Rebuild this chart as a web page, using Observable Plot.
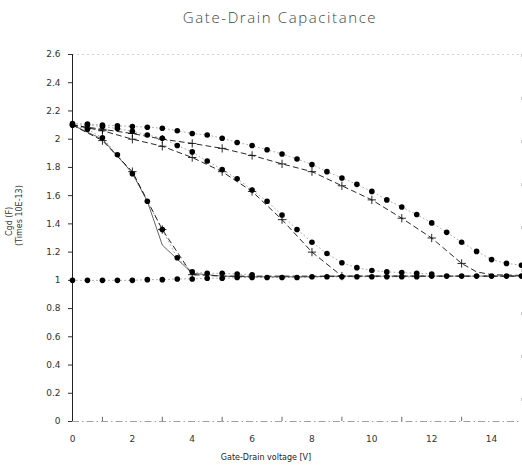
<!DOCTYPE html>
<html><head><meta charset="utf-8">
<script src="https://cdn.jsdelivr.net/npm/d3@7"></script>
<script src="https://cdn.jsdelivr.net/npm/@observablehq/plot@0.6"></script>
<style>
body{margin:0;background:#fff;width:522px;height:468px;overflow:hidden;font-family:"DejaVu Sans",sans-serif}
#title{height:34px;line-height:34px;width:484px;padding-left:38px;text-align:center;font-size:15px;letter-spacing:1.6px;color:#444;font-family:"Open Sans","DejaVu Sans",sans-serif;font-weight:300}
#xlabel{height:20px;line-height:20px;width:512px;padding-left:10px;text-align:center;font-size:8px;color:#222}
#chart svg{display:block}
</style></head><body>
<div id="title">Gate-Drain Capacitance</div>
<div id="chart"></div>
<div id="xlabel">Gate-Drain voltage [V]</div>
<script>
// measured points (dots), every 0.5 V
const dotX = [0,0.5,1,1.5,2,2.5,3,3.5,4,4.5,5,5.5,6,6.5,7,7.5,8,8.5,9,9.5,10,10.5,11,11.5,12,12.5,13,13.5,14,14.5,15];
const measC = [2.11,2.108,2.10,2.095,2.09,2.085,2.078,2.06,2.04,2.03,2.007,1.977,1.955,1.925,1.895,1.86,1.82,1.77,1.725,1.68,1.63,1.57,1.52,1.466,1.407,1.34,1.27,1.205,1.147,1.12,1.107];
const measB = [2.1,2.1,2.09,2.075,2.056,2.03,2.007,1.955,1.91,1.845,1.785,1.72,1.64,1.56,1.463,1.36,1.27,1.19,1.125,1.09,1.07,1.06,1.055,1.05,1.045];
const measA = [2.1,2.07,2.01,1.89,1.755,1.56,1.36,1.16,1.06,1.05,1.05,1.045,1.04];
const measFlat = [1.0,1.0,1.0,1.0,1.0,1.005,1.005,1.01,1.01,1.015,1.015,1.02,1.02,1.02,1.02,1.02,1.025,1.025,1.025,1.025,1.025,1.025,1.025,1.025,1.03,1.03,1.03,1.03,1.03,1.03,1.03];

// simulated curves (dashed with + markers)
const simCX = [0,1,2,3,4,5,6,7,8,9,10,11,12,13,13.5,14,15];
const simC  = [2.1,2.07,2.04,2.0,1.97,1.935,1.885,1.825,1.77,1.67,1.57,1.44,1.3,1.12,1.06,1.04,1.035];
const simBX = [0,1,2,3,4,5,6,7,8,9,10,15];
const simB  = [2.1,2.06,2.0,1.95,1.87,1.77,1.63,1.43,1.2,1.03,1.03,1.03];
const simAX = [0,1,2,3,4,5,15];
const simA  = [2.1,1.99,1.77,1.36,1.04,1.03,1.03];
const markC = [1,2,3,4,5,6,7,8,9,10,11,12,13];
const markB = [1,2,3,4,5,6,7,8,9];
const markA = [1,2,3,4];

// thin solid curve
const solidX = [0,1,2,2.5,3,4,5,6,7,8,9];
const solidY = [2.1,2.0,1.76,1.56,1.25,1.05,1.03,1.025,1.025,1.025,1.03];

// axis ticks
const yTicks = [0,0.2,0.4,0.6,0.8,1,1.2,1.4,1.6,1.8,2,2.2,2.4,2.6];
const xTicks = [0,2,4,6,8,10,12,14];
const xMinor = [1,3,5,7,9,11,13];

const pts = (xs, ys) => ys.map((y, i) => ({x: xs[i], y}));
const dC = pts(dotX, measC), dB = pts(dotX, measB), dA = pts(dotX, measA), dF = pts(dotX, measFlat);
const sC = pts(simCX, simC), sB = pts(simBX, simB), sA = pts(simAX, simA);
const mC = sC.filter(d => markC.includes(d.x)), mB = sB.filter(d => markB.includes(d.x)), mA = sA.filter(d => markA.includes(d.x));
const sol = pts(solidX, solidY);

const chart = Plot.plot({
  width: 522, height: 414,
  marginTop: 20, marginBottom: 27, marginLeft: 72, marginRight: 1,
  style: {fontFamily: "DejaVu Sans, sans-serif", fontSize: "9px", color: "#333", background: "#fff"},
  x: {domain: [0, 15]},
  y: {domain: [0, 2.6]},
  marks: [
    Plot.ruleY([0], {stroke: "#888", strokeWidth: 0.8, strokeDasharray: "7,3,1.5,3"}),
    Plot.ruleY([2.6], {stroke: "#c8c8c8", strokeWidth: 0.8, strokeDasharray: "2,3"}),
    Plot.ruleX([15], {stroke: "#bbb", strokeWidth: 0.8, strokeDasharray: "3,40"}),
    Plot.ruleX([0], {y1: 0, y2: 2.6, stroke: "#222", strokeWidth: 1}),
    Plot.ruleX(xMinor, {y1: 0, y2: 0.03, stroke: "#444", strokeWidth: 0.8}),
    Plot.axisY({ticks: yTicks, tickSize: 4, tickPadding: 8, tickFormat: d3.format("~g"), label: null, fontSize: 9}),
    Plot.axisX({ticks: xTicks, tickSize: 0, tickPadding: 14, label: null, fontSize: 9}),
    Plot.text(["Cgd (F)"], {frameAnchor: "left", dx: -63, dy: -2, rotate: -90, fontSize: 8, fill: "#333"}),
    Plot.text(["(Times 10E-13)"], {frameAnchor: "left", dx: -53, dy: 8, rotate: -90, fontSize: 8, fill: "#333", letterSpacing: "1px"}),
    // measured: dotted connectors + dots
    ...[dC, dB, dA, dF].map(d => Plot.line(d, {x: "x", y: "y", stroke: "#999", strokeWidth: 0.8, strokeDasharray: "1,3"})),
    Plot.line(sol, {x: "x", y: "y", stroke: "#222", strokeWidth: 0.7}),
    ...[sC, sB, sA].map(d => Plot.line(d, {x: "x", y: "y", stroke: "#111", strokeWidth: 0.9, strokeDasharray: "5,4"})),
    ...[mC, mB, mA].map(d => Plot.dot(d, {x: "x", y: "y", symbol: "plus", r: 2.8, stroke: "#111", strokeWidth: 0.9})),
    ...[dC, dB, dA, dF].map(d => Plot.dot(d, {x: "x", y: "y", r: 2.8, fill: "#000"}))
  ]
});
document.getElementById("chart").appendChild(chart);
</script>
</body></html>
